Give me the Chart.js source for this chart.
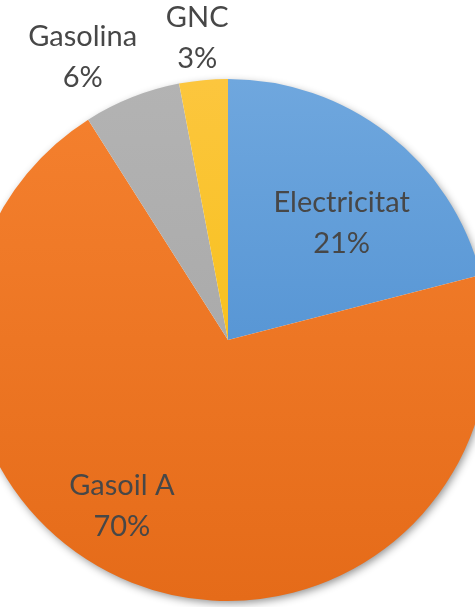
<!DOCTYPE html>
<html>
<head>
<meta charset="utf-8">
<script src="https://cdn.jsdelivr.net/npm/chart.js@4"></script>
<style>
  html, body { margin: 0; padding: 0; background: #fff; overflow: hidden; }
  body { width: 475px; height: 607px; position: relative; }
  #wrap { position: absolute; left: -40px; top: 0; width: 536px; height: 607px; }
</style>
</head>
<body>
<div id="wrap"><canvas id="fuelChart"></canvas></div>
<script>
// Fuel mix shares (%)
const labels = ['Electricitat', 'Gasoil A', 'Gasolina', 'GNC'];
const shares = [21, 70, 6, 3];

// light / dark end of each slice gradient
const lightColors = ['#6fa7de', '#f5812f', '#b3b3b3', '#fcc63e'];
const darkColors = ['#4186cc', '#e56b19', '#a2a2a2', '#f3bc00'];

// label placement: angle shift (deg) from slice middle, distance as share of radius
const labelPlace = [
    { shift: 8.7, dist: 0.60 },
    { shift: 9.6, dist: 0.785 },
    { shift: -6.3, dist: 1.19 },
    { shift: -0.6, dist: 1.13 }
];

function sliceGradient(ctx) {
    const chart = ctx.chart;
    const area = chart.chartArea;
    if (!area) return lightColors[ctx.dataIndex];
    const g = chart.ctx.createLinearGradient(0, area.top, 0, area.bottom);
    g.addColorStop(0, lightColors[ctx.dataIndex]);
    g.addColorStop(1, darkColors[ctx.dataIndex]);
    return g;
}

// soft shadow under the whole pie
const pieShadow = {
    id: 'pieShadow',
    beforeDatasetsDraw(chart) {
        const arc = chart.getDatasetMeta(0).data[0];
        if (!arc) return;
        const c = chart.ctx;
        c.save();
        c.shadowColor = 'rgba(0,0,0,0.45)';
        c.shadowBlur = 8;
        c.shadowOffsetX = 2;
        c.shadowOffsetY = 3;
        c.fillStyle = '#fff';
        c.beginPath();
        c.arc(arc.x, arc.y, arc.outerRadius - 1, 0, Math.PI * 2);
        c.fill();
        c.restore();
    }
};

const sliceLabels = {
    id: 'sliceLabels',
    afterDatasetsDraw(chart) {
        const c = chart.ctx;
        const meta = chart.getDatasetMeta(0);
        c.save();
        c.fillStyle = '#474747';
        c.font = '29px Lato';
        c.textAlign = 'center';
        c.textBaseline = 'alphabetic';
        meta.data.forEach((arc, i) => {
            const mid = (arc.startAngle + arc.endAngle) / 2 + labelPlace[i].shift * Math.PI / 180;
            const r = arc.outerRadius * labelPlace[i].dist;
            const x = arc.x + Math.cos(mid) * r;
            const y = arc.y + Math.sin(mid) * r;
            c.fillText(labels[i], x, y - 20);
            c.fillText(shares[i] + '%', x, y + 21);
        });
        c.restore();
    }
};

new Chart(document.getElementById('fuelChart').getContext('2d'), {
    type: 'pie',
    data: {
        labels: labels,
        datasets: [{
            data: shares,
            backgroundColor: sliceGradient,
            borderWidth: 0
        }]
    },
    options: {
        responsive: true,
        maintainAspectRatio: false,
        animation: false,
        layout: { padding: { top: 79, bottom: 6, left: 7, right: 7 } },
        plugins: {
            legend: { display: false },
            tooltip: { enabled: false }
        }
    },
    plugins: [pieShadow, sliceLabels]
});
</script>
</body>
</html>
